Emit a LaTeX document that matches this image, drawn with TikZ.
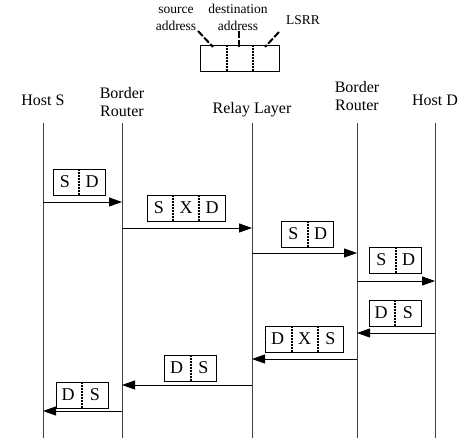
\documentclass[tikz,border=0pt]{standalone}
\usepackage{fontspec}
\setmainfont{Liberation Serif}
\usetikzlibrary{arrows.meta}
\newcommand\pkttwo[5]{%
  \node[box2] (#1) at (#2,#3) {};
  \node[ltr] (#1a) at (#2-14,#3) {#4};
  \node[ltr] (#1b) at (#2+13,#3) {#5};
  \draw[sep] (#1.north) -- (#1.south);}
\newcommand\pktthree[6]{%
  \node[box3] (#1) at (#2,#3) {};
  \node[ltr] (#1a) at (#2-27,#3) {#4};
  \node[ltr] (#1b) at (#2,#3) {#5};
  \node[ltr] (#1c) at (#2+26,#3) {#6};
  \draw[sep] ([xshift=-13pt]#1.north) -- ([xshift=-13pt]#1.south);
  \draw[sep] ([xshift=13pt]#1.north) -- ([xshift=13pt]#1.south);}
\begin{document}
\begin{tikzpicture}[x=1pt,y=-1pt,
  lbl/.style={font=\fontsize{16}{18.5}\selectfont, align=center, inner sep=0},
  small/.style={font=\fontsize{13.5}{17.5}\selectfont, align=center, inner sep=0},
  life/.style={line width=0.8pt, draw=black!75},
  msg/.style={line width=0.9pt, -{Triangle[length=13pt,width=9pt]}},
  box/.style={draw, line width=0.8pt, minimum height=26pt, inner sep=0},
  box2/.style={box, minimum width=52pt},
  box3/.style={box, minimum width=78pt},
  ltr/.style={font=\fontsize{18}{20}\selectfont, inner sep=0},
  sep/.style={line width=2pt, dash pattern=on 2pt off 1pt},
  tick/.style={line width=2pt, dash pattern=on 7pt off 2pt}
]
\useasboundingbox (0,0) rectangle (474,438);

% header
\node[small] (src) at (176,19) {source\\address};
\node[small] (dst) at (238,17.5) {destination\\address};
\node[small] (lsrr) at (303,20) {LSRR};
\node[draw, line width=0.8pt, minimum width=79pt, minimum height=26pt, inner sep=0] (hdr) at (239.5,58) {};
\draw[sep] ([xshift=-13pt]hdr.north) -- ([xshift=-13pt]hdr.south);
\draw[sep] ([xshift=13pt]hdr.north) -- ([xshift=13pt]hdr.south);
\coordinate (t1a) at (198,31); \coordinate (t1b) at (213,47);
\coordinate (t2a) at (239,31); \coordinate (t2b) at (239,48);
\coordinate (t3a) at (279,32); \coordinate (t3b) at (265,47);
\draw[tick] (t1a) -- (t1b);
\draw[tick] (t2a) -- (t2b);
\draw[tick] (t3a) -- (t3b);

% lifeline labels
\node[lbl] (lhS) at (43,100) {Host S};
\node[lbl] (lb1) at (122,102) {Border\\Router};
\node[lbl] (lrl) at (252,110) {Relay Layer};
\node[lbl] (lb2) at (357,96) {Border\\Router};
\node[lbl] (lhD) at (435,100) {Host D};

% lifelines
\foreach \n/\x in {hS/43,b1/122,rl/252,b2/357,hD/435}{
  \coordinate (\n-t) at (\x,123);
  \coordinate (\n-b) at (\x,438);
  \draw[life] (\n-t) -- (\n-b);
}

% messages
\foreach \i/\y in {1/202,2/228,3/253,4/281,5/333,6/359,7/385,8/411}{
  \coordinate (y\i) at (0,\y);
}
\draw[msg] (hS-t |- y1) -- (b1-t |- y1);
\draw[msg] (b1-t |- y2) -- (rl-t |- y2);
\draw[msg] (rl-t |- y3) -- (b2-t |- y3);
\draw[msg] (b2-t |- y4) -- (hD-t |- y4);
\draw[msg] (hD-t |- y5) -- (b2-t |- y5);
\draw[msg] (b2-t |- y6) -- (rl-t |- y6);
\draw[msg] (rl-t |- y7) -- (b1-t |- y7);
\draw[msg] (b1-t |- y8) -- (hS-t |- y8);

% packets
\pkttwo{p1}{79}{182}{S}{D}
\pktthree{p2}{186}{208}{S}{X}{D}
\pkttwo{p3}{307.5}{234}{S}{D}
\pkttwo{p4}{395.5}{260}{S}{D}
\pkttwo{p5}{395}{313}{D}{S}
\pktthree{p6}{304.5}{339}{D}{X}{S}
\pkttwo{p7}{190.5}{368}{D}{S}
\pkttwo{p8}{82}{395}{D}{S}
\end{tikzpicture}
\end{document}
